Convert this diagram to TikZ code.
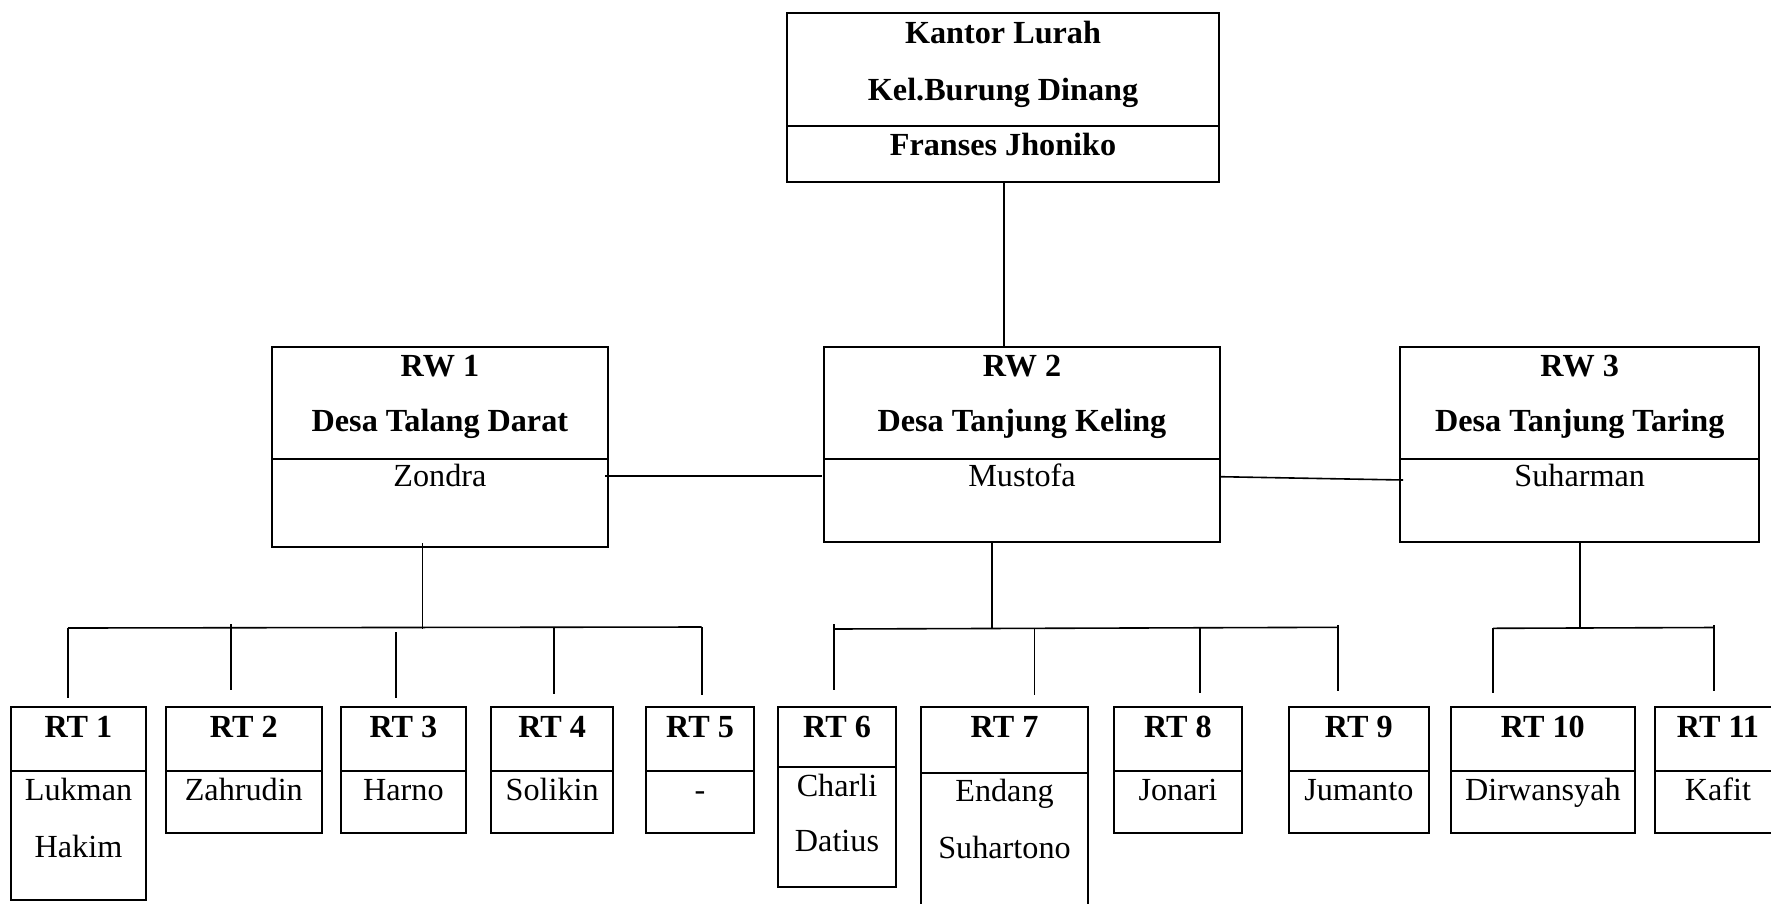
\documentclass[tikz,border=0pt]{standalone}
\usepackage{fontspec}
\setmainfont{Liberation Serif}
\usetikzlibrary{fit}
\tikzset{
  orgbox/.style={draw, line width=2pt, rectangle, inner sep=0pt, outer sep=0pt},
  sepline/.style={line width=2pt},
  conn/.style={line width=1.6pt},
  txt/.style={font=\fontsize{32.2}{38}\selectfont, anchor=base, inner sep=0pt},
  btxt/.style={font=\fontsize{32.2}{38}\selectfont\bfseries, anchor=base, inner sep=0pt},
}
\newcommand\mkorgbox[6]{%
  \node[orgbox, fit={(#2,#3) (#4,#5)}] (#1) {};
  \draw[sepline] (#2,#6) -- (#4,#6);
}
\begin{document}
\begin{tikzpicture}[x=1pt,y=-1pt]
\useasboundingbox (0,0) rectangle (1771,903);
\clip (0,0) rectangle (1771,903);
\fill[white] (0,0) rectangle (1771,903);

% ---- boxes ----
\mkorgbox{top}{787}{12.7}{1218.7}{181.7}{125.7}
\mkorgbox{rw1}{271.5}{346.7}{608.3}{547.3}{459}
\mkorgbox{rw2}{823.8}{346.7}{1220.3}{541.7}{459}
\mkorgbox{rw3}{1400}{346.7}{1759.3}{541.7}{459}
\mkorgbox{rt1}{10.7}{707}{146.2}{900}{771}
\mkorgbox{rt2}{165.7}{707}{321.9}{833}{771}
\mkorgbox{rt3}{340.6}{707}{466.1}{833}{771}
\mkorgbox{rt4}{491}{707}{613.3}{833}{771}
\mkorgbox{rt5}{645.8}{707}{754.1}{833}{771}
\mkorgbox{rt6}{777.9}{707}{896.1}{886.7}{767.3}
\mkorgbox{rt7}{921.4}{707}{1087.5}{930}{773.3}
\mkorgbox{rt8}{1113.9}{707}{1241.8}{833}{771}
\mkorgbox{rt9}{1288.6}{707}{1428.9}{833}{771}
\mkorgbox{rt10}{1450.7}{707}{1635}{833}{771}
\mkorgbox{rt11}{1654.9}{707}{1790}{833}{771}

% ---- texts ----
\node[btxt] (tk1) at (1003,43.3) {Kantor Lurah};
\node[btxt] (tk2) at (1003,100) {Kel.Burung Dinang};
\node[btxt] (tk3) at (1003,155) {Franses Jhoniko};

\node[btxt] (r1a) at (439.9,376.7) {RW 1};
\node[btxt] (r1b) at (439.9,431.7) {Desa Talang Darat};
\node[txt]  (r1c) at (439.9,486.7) {Zondra};
\node[btxt] (r2a) at (1022,376.7) {RW 2};
\node[btxt] (r2b) at (1022,431.7) {Desa Tanjung Keling};
\node[txt]  (r2c) at (1022,486.7) {Mustofa};
\node[btxt] (r3a) at (1579.7,376.7) {RW 3};
\node[btxt] (r3b) at (1579.7,431.7) {Desa Tanjung Taring};
\node[txt]  (r3c) at (1579.7,486.7) {Suharman};

\node[btxt] (l1) at (78.5,737) {RT 1};
\node[txt]  (n1a) at (78.5,800) {Lukman};
\node[txt]  (n1b) at (78.5,857) {Hakim};
\node[btxt] (l2) at (243.8,737) {RT 2};
\node[txt]  (n2) at (243.8,800) {Zahrudin};
\node[btxt] (l3) at (403.4,737) {RT 3};
\node[txt]  (n3) at (403.4,800) {Harno};
\node[btxt] (l4) at (552.2,737) {RT 4};
\node[txt]  (n4) at (552.2,800) {Solikin};
\node[btxt] (l5) at (700,737) {RT 5};
\node[txt]  (n5) at (700,800) {-};
\node[btxt] (l6) at (837,737) {RT 6};
\node[txt]  (n6a) at (837,796.7) {Charli};
\node[txt]  (n6b) at (837,851.7) {Datius};
\node[btxt] (l7) at (1004.5,737) {RT 7};
\node[txt]  (n7a) at (1004.5,801.7) {Endang};
\node[txt]  (n7b) at (1004.5,858.3) {Suhartono};
\node[btxt] (l8) at (1177.9,737) {RT 8};
\node[txt]  (n8) at (1177.9,800) {Jonari};
\node[btxt] (l9) at (1358.8,737) {RT 9};
\node[txt]  (n9) at (1358.8,800) {Jumanto};
\node[btxt] (l10) at (1542.9,737) {RT 10};
\node[txt]  (n10) at (1542.9,800) {Dirwansyah};
\node[btxt] (l11) at (1718,737) {RT 11};
\node[txt]  (n11) at (1718,800) {Kafit};

% ---- connectors between levels ----
\coordinate (ctop) at (1004,0);
\draw[conn] (top.south -| ctop) -- (rw2.north -| ctop);
\coordinate (h1) at (0,475.7);
\draw[conn] ([xshift=-3pt]rw1.east |- h1) -- ([xshift=-2pt]rw2.west |- h1);
\coordinate (h2a) at (0,476.7);
\coordinate (h2b) at (0,480);
\draw[conn] (rw2.east |- h2a) -- ([xshift=3pt]rw3.west |- h2b);

% RW1 group
\coordinate (m1) at (422.3,629);
\draw[conn] ([yshift=4pt]rw1.south -| m1) -- (m1);
\coordinate (b1L) at (68,628);
\coordinate (b1R) at (701.7,627);
\draw[conn] (b1L) -- (b1R);
% RW2 group
\coordinate (m2) at (991.7,628);
\draw[conn] (rw2.south -| m2) -- (m2);
\coordinate (b2L) at (833.7,629);
\coordinate (b2R) at (1337.7,627.3);
\draw[conn] (b2L) -- (b2R);
% RW3 group
\coordinate (m3) at (1580,628);
\draw[conn] (rw3.south -| m3) -- (m3);
\coordinate (b3L) at (1493.2,628.3);
\coordinate (b3R) at (1714.2,627.5);
\draw[conn] (b3L) -- (b3R);

% drops
\foreach \n/\x/\ya/\yb in {
  d1/68/628/698, d2/230.8/624/690, d3/395.7/632/698, d4/553.8/628/694, d5/701.7/627/695,
  d6/833.7/624/690, d7/1034.6/629/695, d8/1199.7/627/692.7, d9/1337.7/625/690.7,
  d10/1493.2/628/693, d11/1714.2/625/690.7}{
  \coordinate (s\n) at (\x,\ya);
  \coordinate (e\n) at (\x,\yb);
  \draw[conn] (s\n) -- (e\n);
}
\end{tikzpicture}
\end{document}
